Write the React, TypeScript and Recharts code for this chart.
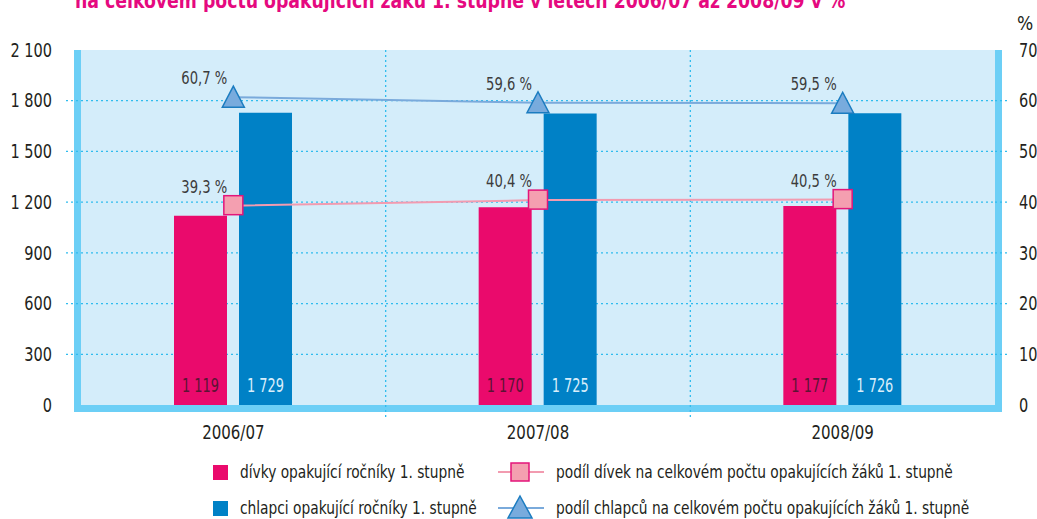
import React from 'react';
import {
  ComposedChart, Bar, Line, XAxis, YAxis, CartesianGrid, LabelList, ReferenceArea, ReferenceLine,
} from 'recharts';

const years = ['2006/07', '2007/08', '2008/09'];
const girls = [1119, 1170, 1177];
const boys = [1729, 1725, 1726];
const girlsShare = [39.3, 40.4, 40.5];
const boysShare = [60.7, 59.6, 59.5];
const leftTicks = [0, 300, 600, 900, 1200, 1500, 1800, 2100];
const rightTicks = [0, 10, 20, 30, 40, 50, 60, 70];
const gridValues = [300, 600, 900, 1200, 1500, 1800];
const separatorsAfter = ['2006/07', '2007/08'];

const titleText = 'na celkovém počtu opakujících žáků 1. stupně v letech 2006/07 až 2008/09 v %';
const legendLabels = [
  'dívky opakující ročníky 1. stupně',
  'chlapci opakující ročníky 1. stupně',
  'podíl dívek na celkovém počtu opakujících žáků 1. stupně',
  'podíl chlapců na celkovém počtu opakujících žáků 1. stupně',
];

const data = years.map((y, i) => ({
  year: y,
  girls: girls[i],
  boys: boys[i],
  girlsShare: girlsShare[i],
  boysShare: boysShare[i],
}));

const FONT = '"DejaVu Sans Condensed", "DejaVu Sans", sans-serif';
const PINK = '#ea0a6c';
const BLUE = '#0081c6';
const BG = '#d4edfa';
const BORDER = '#6ccff6';
const GRID = '#2fbcee';
const TEXT = '#231f20';
const TICK_SIZE = 15;
const LEFT_MARGIN = 14;
const RIGHT_MARGIN = 9;

const fmtThousands = (n: number) => String(n).replace(/\B(?=(\d{3})+(?!\d))/g, ' ');
const fmtPct = (n: number) => String(n.toFixed(1)).replace('.', ',') + ' %';

type STextProps = {
  x: number; y: number; sx: number; size: number; anchor?: string; fill?: string;
  dy?: string; weight?: string; children: React.ReactNode;
};
const SText = ({ x, y, sx, size, anchor = 'start', fill = TEXT, dy, weight, children }: STextProps) => (
  <text
    transform={`translate(${x},${y}) scale(${sx},1)`}
    x={0}
    y={0}
    dy={dy}
    textAnchor={anchor as any}
    fill={fill}
    fontFamily={FONT}
    fontSize={size}
    fontWeight={weight}
  >
    {children}
  </text>
);

const dotted = { stroke: GRID, strokeDasharray: '2 3', strokeWidth: 1.3 };

const LeftTick = (p: any) => {
  const v = p.payload.value;
  const showLine = gridValues.includes(v);
  const x0 = p.x + LEFT_MARGIN;
  return (
    <g>
      {showLine && <line x1={x0} y1={p.y} x2={x0 + TICK_SIZE} y2={p.y} {...dotted} />}
      <SText x={p.x} y={p.y} sx={0.85} size={19} anchor="end" dy="0.355em">
        {fmtThousands(v)}
      </SText>
    </g>
  );
};
const RightTick = (p: any) => {
  const v = p.payload.value;
  const showLine = v !== 0 && v !== 70;
  const x1 = p.x - RIGHT_MARGIN;
  return (
    <g>
      {showLine && <line x1={x1 - TICK_SIZE} y1={p.y} x2={x1} y2={p.y} {...dotted} />}
      <SText x={p.x} y={p.y} sx={0.85} size={19} anchor="start" dy="0.355em">
        {v}
      </SText>
    </g>
  );
};
const CatTick = (p: any) => (
  <SText x={p.x} y={p.y} sx={0.88} size={19} anchor="middle" dy="0.71em">
    {p.payload.value}
  </SText>
);

const SeparatorShape = (props: any) => {
  const { x1, y1, x2, y2 } = props;
  const top = Math.min(y1, y2);
  const bottom = Math.max(y1, y2);
  return <line x1={x1} y1={top} x2={x2} y2={bottom + 13} {...dotted} />;
};

const BorderShape = (props: any) => {
  const { x, y, width, height } = props;
  const w = 7;
  const h = w / 2;
  return (
    <g>
      <line x1={x - h} y1={y} x2={x - h} y2={y + height + w} stroke={BORDER} strokeWidth={w} />
      <line x1={x + width + h} y1={y} x2={x + width + h} y2={y + height + w} stroke={BORDER} strokeWidth={w} />
      <line x1={x - w} y1={y + height + h} x2={x + width + w} y2={y + height + h} stroke={BORDER} strokeWidth={w} />
    </g>
  );
};

const BarValueLabel = (color: string) => (props: any) => {
  const { x, y, width, height, value } = props;
  return (
    <SText x={x + width / 2} y={y + height - 20} sx={0.72} size={20} anchor="middle" dy="0.355em" fill={color}>
      {fmtThousands(value)}
    </SText>
  );
};

const PctLabel = (props: any) => {
  const { x, y, value } = props;
  return (
    <SText x={x - 29} y={y - 19} sx={0.86} size={17} anchor="middle" dy="0.355em" fill="#3c3c3c">
      {fmtPct(value)}
    </SText>
  );
};

const SquareDot = (props: any) => {
  const { cx, cy, index } = props;
  if (cx == null || cy == null) return <g key={`sq-${index}`} />;
  return (
    <rect key={`sq-${index}`} x={cx - 9.5} y={cy - 10} width={19} height={19} fill="#f49fb0" stroke="#e3157a" strokeWidth={1.5} />
  );
};

const TriDot = (props: any) => {
  const { cx, cy, index } = props;
  if (cx == null || cy == null) return <g key={`tr-${index}`} />;
  return (
    <polygon
      key={`tr-${index}`}
      points={`${cx},${cy - 11} ${cx + 11},${cy + 10} ${cx - 11},${cy + 10}`}
      fill="#78abdd"
      stroke="#1b7cc0"
      strokeWidth={1.5}
    />
  );
};

const legendText: React.CSSProperties = {
  position: 'absolute',
  fontFamily: FONT,
  fontSize: 17,
  color: TEXT,
  whiteSpace: 'nowrap',
  lineHeight: '20px',
  transform: 'scaleX(0.9)',
  transformOrigin: 'left center',
};

export default function App() {
  return (
    <div style={{ position: 'fixed', left: 0, top: 0, width: 1037, height: 519, overflow: 'hidden', background: '#fff' }}>
      <svg width={1037} height={20} style={{ position: 'absolute', left: 0, top: 0 }}>
        <SText x={75} y={8} sx={0.875} size={22} weight="bold" fill="#e5097f">
          {titleText}
        </SText>
      </svg>
      <div style={{ position: 'absolute', left: 0, top: 0 }}>
        <ComposedChart
          width={1037}
          height={519}
          data={data}
          margin={{ top: 50, right: 0, bottom: 74, left: 0 }}
          barSize={53}
          barGap={12}
        >
          <CartesianGrid
            yAxisId="left"
            xAxisId="cat"
            fill={BG}
            fillOpacity={1}
            vertical={false}
            horizontalValues={gridValues}
            {...dotted}
          />
          <ReferenceArea yAxisId="left" xAxisId="cat" y1={0} y2={2100} shape={BorderShape} ifOverflow="visible" />
          {separatorsAfter.map((s) => (
            <ReferenceLine
              key={`sep-${s}`}
              yAxisId="left"
              xAxisId="cat"
              x={s}
              position="end"
              shape={SeparatorShape}
              ifOverflow="visible"
            />
          ))}
          <XAxis
            xAxisId="cat"
            dataKey="year"
            axisLine={false}
            tickLine={false}
            height={40}
            tickMargin={14}
            tick={CatTick}
          />
          <YAxis
            yAxisId="left"
            domain={[0, 2100]}
            ticks={leftTicks}
            width={81}
            axisLine={false}
            tickLine={false}
            tickSize={TICK_SIZE}
            tickMargin={LEFT_MARGIN}
            tick={LeftTick}
            interval={0}
          />
          <YAxis
            yAxisId="right"
            orientation="right"
            domain={[0, 70]}
            ticks={rightTicks}
            width={42}
            axisLine={false}
            tickLine={false}
            tickSize={TICK_SIZE}
            tickMargin={RIGHT_MARGIN}
            tick={RightTick}
            interval={0}
            label={{ value: '%', position: 'top', offset: 20, dx: 9, fill: TEXT, fontFamily: FONT, fontSize: 19 }}
          />
          <Bar xAxisId="cat" yAxisId="left" dataKey="girls" fill={PINK} isAnimationActive={false}>
            <LabelList dataKey="girls" content={BarValueLabel('#5b1434')} />
          </Bar>
          <Bar xAxisId="cat" yAxisId="left" dataKey="boys" fill={BLUE} isAnimationActive={false}>
            <LabelList dataKey="boys" content={BarValueLabel('#d9eefb')} />
          </Bar>
          <Line
            xAxisId="cat"
            yAxisId="right"
            dataKey="girlsShare"
            stroke="#f29bb0"
            strokeWidth={2}
            dot={SquareDot}
            activeDot={false}
            isAnimationActive={false}
          >
            <LabelList dataKey="girlsShare" content={PctLabel} />
          </Line>
          <Line
            xAxisId="cat"
            yAxisId="right"
            dataKey="boysShare"
            stroke="#7aaadb"
            strokeWidth={2}
            dot={TriDot}
            activeDot={false}
            isAnimationActive={false}
          >
            <LabelList dataKey="boysShare" content={PctLabel} />
          </Line>
        </ComposedChart>
      </div>
      {/* legend */}
      <div style={{ position: 'absolute', left: 213, top: 465, width: 15, height: 15, background: PINK }} />
      <div style={{ ...legendText, left: 240, top: 462 }}>{legendLabels[0]}</div>
      <div style={{ position: 'absolute', left: 213, top: 501, width: 15, height: 15, background: BLUE }} />
      <div style={{ ...legendText, left: 240, top: 498 }}>{legendLabels[1]}</div>
      <svg width={50} height={64} style={{ position: 'absolute', left: 496, top: 455 }}>
        <line x1={2} y1={17} x2={48} y2={17} stroke="#f29bb0" strokeWidth={2} />
        <rect x={15} y={8} width={18} height={18} fill="#f49fb0" stroke="#e3157a" strokeWidth={1.5} />
        <line x1={2} y1={53} x2={48} y2={53} stroke="#7aaadb" strokeWidth={2} />
        <polygon points="24,41 36,63 12,63" fill="#78abdd" stroke="#1b7cc0" strokeWidth={1.5} />
      </svg>
      <div style={{ ...legendText, left: 556, top: 462 }}>{legendLabels[2]}</div>
      <div style={{ ...legendText, left: 556, top: 498 }}>{legendLabels[3]}</div>
    </div>
  );
}
